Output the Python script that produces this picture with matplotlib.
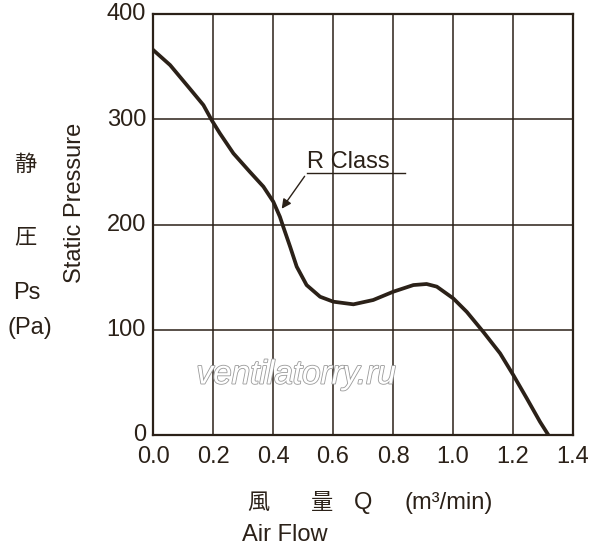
import matplotlib
matplotlib.use("Agg")
import matplotlib.pyplot as plt
import matplotlib.patheffects as pe
import matplotlib.transforms as mtransforms

# values
airflow = [0.0, 0.057, 0.123, 0.168, 0.196, 0.223, 0.268, 0.323, 0.368, 0.401,
           0.423, 0.434, 0.457, 0.479, 0.512, 0.557, 0.601, 0.668, 0.734,
           0.801, 0.868, 0.912, 0.946, 1.001, 1.046, 1.101, 1.157, 1.201,
           1.246, 1.29, 1.318]
pressure = [366, 351.5, 329, 313.5, 299, 286.6, 267.6, 250, 236, 221.7,
            207.4, 198, 179, 160, 142.5, 131.4, 126.7, 124.2, 128.3,
            136.2, 142.5, 143.5, 141, 129.8, 117, 98, 77.6, 57,
            34.8, 12.6, 0]
x_ticks = [0.0, 0.2, 0.4, 0.6, 0.8, 1.0, 1.2, 1.4]
y_ticks = [0, 100, 200, 300, 400]
curve_label = "R Class"

ink = "#2b2118"
plt.rcParams["font.family"] = ["Liberation Sans", "Noto Sans CJK JP", "DejaVu Sans"]

fig = plt.figure(figsize=(6, 5.5), dpi=100)
ax = fig.add_axes([0.255, 0.209, 0.700, 0.7655])

ax.plot(airflow, pressure, color=ink, lw=2.7, solid_joinstyle="round", zorder=3)

ax.set_xlim(0, 1.4)
ax.set_ylim(0, 400)
ax.set_xticks(x_ticks)
ax.set_xticklabels([f"{v:.1f}" for v in x_ticks])
ax.set_yticks(y_ticks)
ax.grid(True, color=ink, lw=1.1)
ax.tick_params(colors=ink, labelsize=17, length=0)
ax.tick_params(axis="x", pad=8)
ax.tick_params(axis="y", pad=5)
for s in ax.spines.values():
    s.set_color(ink)
    s.set_linewidth(1.6)

# lift the y labels a touch so "0" clears "0.0"
lift = mtransforms.ScaledTranslation(0, 1.5 / 72, fig.dpi_scale_trans)
for lbl in ax.get_yticklabels():
    lbl.set_transform(lbl.get_transform() + lift)

# curve annotation
ax.annotate(curve_label, xy=(0.429, 215), xytext=(0.512, 248.5),
            fontsize=17, color=ink, va="bottom", ha="left",
            arrowprops=dict(arrowstyle="-|>", color=ink, lw=1.0,
                            mutation_scale=14, shrinkA=0, shrinkB=0,
                            relpos=(0, 0)))
ax.plot([0.512, 0.84], [248.5, 248.5], color=ink, lw=1.0, zorder=4)

# watermark
fig.text(0.494, 0.318, "ventilatorry.ru", fontsize=24, style="italic",
         color="white", ha="center", va="center",
         path_effects=[pe.withStroke(linewidth=1.2, foreground="#9a9a9a")])

# axis titles
fig.text(0.125, 0.632, "Static Pressure", rotation=90, fontsize=17,
         color=ink, ha="center", va="center")
fig.text(0.042, 0.70, "静", fontsize=16, color=ink, ha="center", va="center")
fig.text(0.042, 0.567, "圧", fontsize=16, color=ink, ha="center", va="center")
fig.text(0.045, 0.467, "Ps", fontsize=17, color=ink, ha="center", va="center")
fig.text(0.050, 0.404, "(Pa)", fontsize=17, color=ink, ha="center", va="center")

fig.text(0.430, 0.085, "風", fontsize=16, color=ink, ha="center", va="center")
fig.text(0.537, 0.085, "量", fontsize=16, color=ink, ha="center", va="center")
fig.text(0.605, 0.085, "Q", fontsize=17, color=ink, ha="center", va="center")
fig.text(0.748, 0.085, "(m³/min)", fontsize=17, color=ink, ha="center", va="center")
fig.text(0.403, 0.027, "Air Flow", fontsize=17, color=ink, ha="left", va="center")

fig.savefig("out.png", dpi=100)
